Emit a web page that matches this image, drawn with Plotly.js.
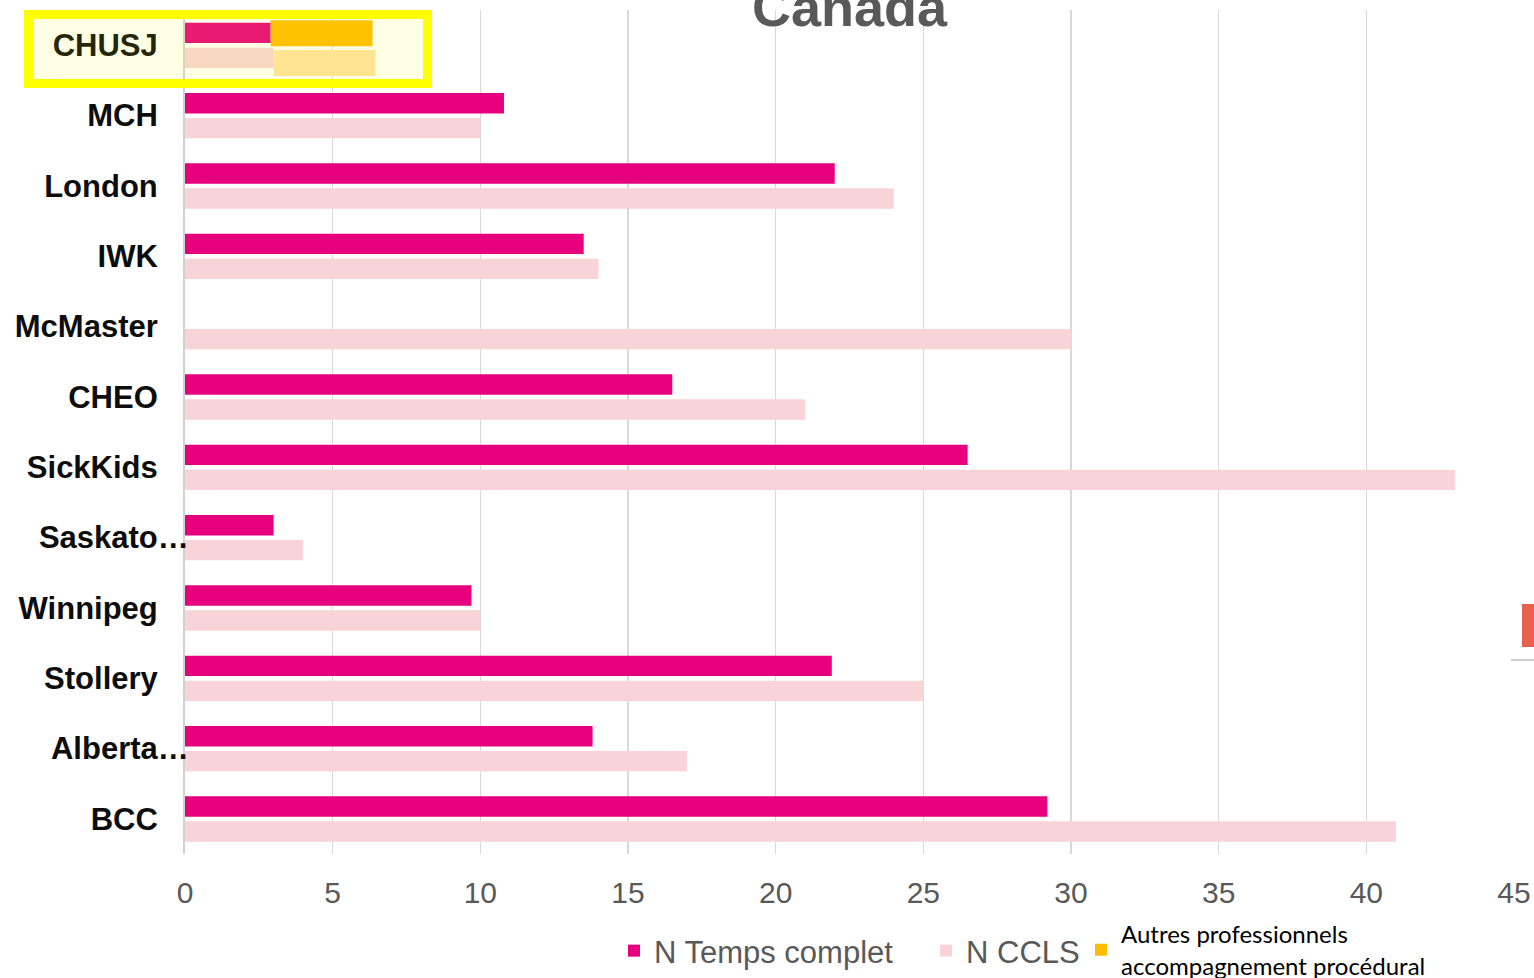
<!DOCTYPE html>
<html><head><meta charset="utf-8">
<script src="https://cdn.plot.ly/plotly-3.0.1.min.js"></script>
<style>html,body{margin:0;padding:0;background:#fff;overflow:hidden}#chart{width:1534px;height:978px}</style>
</head><body><div id="chart"></div>
<script>
// ---- data ----
const categories = ['CHUSJ','MCH','London','IWK','McMaster','CHEO','SickKids','Saskato…','Winnipeg','Stollery','Alberta…','BCC'];
const tempsComplet = [2.9, 10.8, 22.0, 13.5, null, 16.5, 26.5, 3.0, 9.7, 21.9, 13.8, 29.2];
const ccls = [3.0, 10.0, 24.0, 14.0, 30.0, 21.0, 43.0, 4.0, 10.0, 25.0, 17.0, 41.0];
const autres = [3.45, null, null, null, null, null, null, null, null, null, null, null];
const seriesNames = ['N Temps complet', 'N CCLS', 'Autres professionnels<br>accompagnement procédural'];
const xTickVals = [0, 5, 10, 15, 20, 25, 30, 35, 40, 45];
const chartTitle = 'Canada';

// ---- geometry helpers (pixel -> paper) ----
const W = 1534, H = 978;
const M = {l: 185, r: 20, t: 10, b: 124, autoexpand: false};
const PW = W - M.l - M.r, PH = H - M.t - M.b;
const px = x => (x - M.l) / PW;
const py = y => (H - M.b - y) / PH;

const AR = 'Arial, "Liberation Sans", sans-serif';
const baseTop = tempsComplet.map(v => v || 0);
const baseLow = ccls.map(v => v || 0);

const traces = [
  {type:'bar', orientation:'h', name: seriesNames[0], y: categories, x: tempsComplet,
   marker:{color:'#E6007E'}, offset:-0.32, width:0.29, legend:'legend', hoverinfo:'x+y'},
  {type:'bar', orientation:'h', name: seriesNames[1], y: categories, x: ccls,
   marker:{color:'#F8D3D8'}, offset:0.035, width:0.29, legend:'legend2', hoverinfo:'x+y'},
  {type:'bar', orientation:'h', name: seriesNames[2], y: categories, x: autres, base: baseTop,
   marker:{color:'#FFBC00'}, offset:-0.355, width:0.37, legend:'legend3', hoverinfo:'x+y'},
  {type:'bar', orientation:'h', name: seriesNames[2], y: categories, x: autres, base: baseLow,
   marker:{color:'#FFE3A2'}, offset:0.07, width:0.37, showlegend:false, hoverinfo:'x+y'}
];

const tickText = categories.map(c => c.endsWith('…') ? c : c + '\u2003');

const layout = {
  width: W, height: H,
  margin: M,
  paper_bgcolor:'#fff', plot_bgcolor:'#fff',
  barmode:'overlay',
  title:{text: chartTitle, font:{family:AR, size:54, color:'#595959', weight:'bold'},
         x:0.5, xref:'paper', y: 1 - 26/H, yref:'container', yanchor:'bottom'},
  xaxis:{range:[0,45], tickvals:xTickVals, showgrid:true, gridcolor:'#D9D9D9', gridwidth:1.6,
         zeroline:false, showline:false, ticks:'', ticklabelstandoff:18,
         tickfont:{family:AR, size:30, color:'#595959'}, fixedrange:true},
  yaxis:{type:'category', categoryorder:'array', categoryarray:categories, range:[11.5,-0.5],
         tickvals:categories, ticktext:tickText, showgrid:false, zeroline:false,
         showline:true, linecolor:'#D2D2D2', linewidth:2, ticks:'', ticklabelstandoff:-12,
         tickfont:{family:AR, size:31, color:'#0D0D0D', weight:'bold'}, fixedrange:true},
  showlegend:true,
  legend:{x:px(614), xanchor:'left', y:py(951), yanchor:'middle', orientation:'h',
          bgcolor:'rgba(0,0,0,0)', font:{family:AR, size:31, color:'#595959'}},
  legend2:{x:px(926), xanchor:'left', y:py(951), yanchor:'middle', orientation:'h',
          bgcolor:'rgba(0,0,0,0)', font:{family:AR, size:31, color:'#595959'}},
  legend3:{x:px(1081), xanchor:'left', y:py(950), yanchor:'middle', orientation:'h',
          bgcolor:'rgba(0,0,0,0)', font:{family:'Lato, Carlito, Calibri, sans-serif', size:24, color:'#000'}},
  shapes:[
    // highlight box around CHUSJ
    {type:'rect', xref:'paper', yref:'paper', x0:px(28.5), x1:px(427.5), y0:py(83.5), y1:py(14.5),
     fillcolor:'rgba(255,255,0,0.1)', line:{color:'#FFFF00', width:9}, layer:'above'},
    // cropped slide artefacts on the right edge
    {type:'rect', xref:'paper', yref:'paper', x0:px(1507), x1:px(1534), y0:py(659), y1:py(0),
     fillcolor:'#FFFFFF', line:{width:0}, layer:'above'},
    {type:'line', xref:'paper', yref:'paper', x0:px(1511), x1:px(1534), y0:py(660), y1:py(660),
     line:{color:'#BFBFBF', width:1.5}, layer:'above'},
    {type:'rect', xref:'paper', yref:'paper', x0:px(1522), x1:px(1535), y0:py(647), y1:py(604),
     fillcolor:'#E6624E', line:{width:0}, layer:'above'}
  ]
};

Plotly.newPlot('chart', traces, layout, {displayModeBar:false, staticPlot:true});
</script></body></html>
